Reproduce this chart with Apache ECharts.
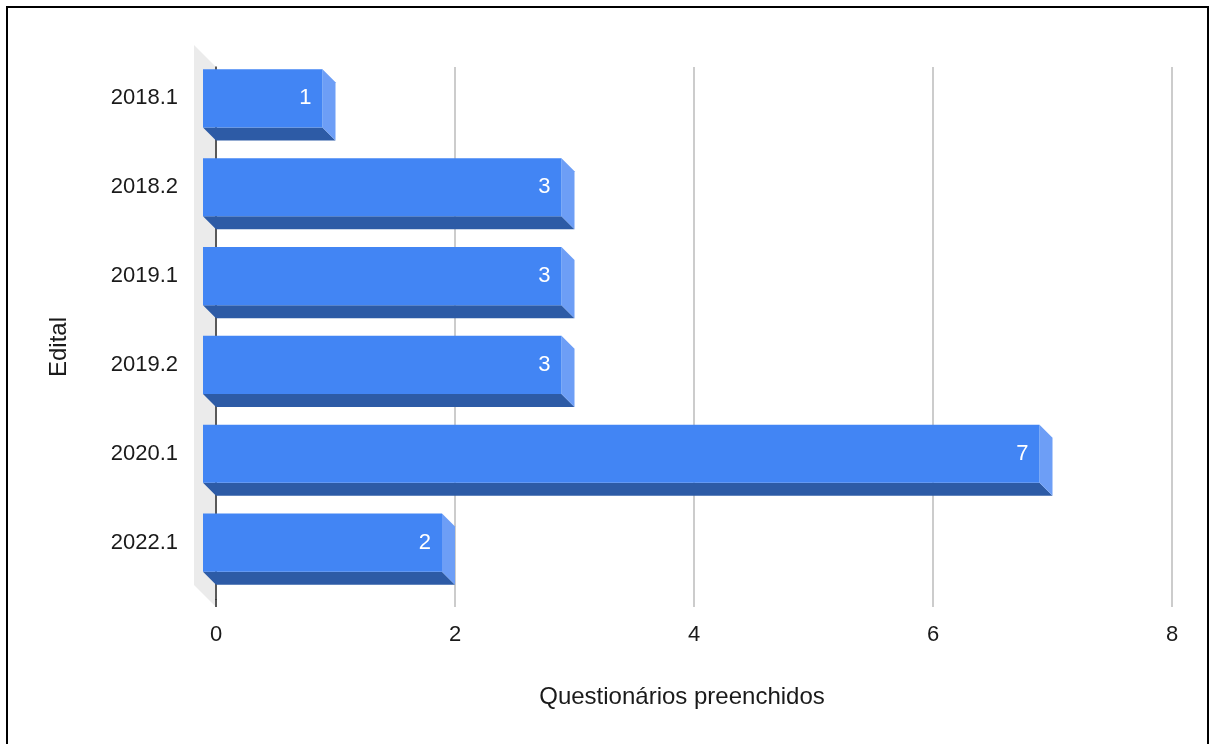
<!DOCTYPE html>
<html>
<head>
<meta charset="utf-8">
<script src="https://cdn.jsdelivr.net/npm/echarts@6/dist/echarts.min.js"></script>
<style>
  html, body { margin: 0; padding: 0; background: #fff; }
  #chart { width: 1209px; height: 744px; }
</style>
</head>
<body>
<div id="chart"></div>
<script>
// Editais and number of filled-in questionnaires per edital
const categories = ['2018.1', '2018.2', '2019.1', '2019.2', '2020.1', '2022.1'];
const values = [1, 3, 3, 3, 7, 2];
const xTicks = [0, 2, 4, 6, 8];

const FONT = '"Liberation Sans", Arial, sans-serif';
const DEPTH = 13;          // 3D extrusion offset (px)
const GRID = { left: 216, top: 67, right: 37, bottom: 144 };
const W = 1209, H = 744;
const plotBottom = H - GRID.bottom;

const chart = echarts.init(document.getElementById('chart'), null, { renderer: 'canvas' });

function renderBar(params, api) {
  const val = api.value(0);
  const cat = api.value(1);
  const base = api.coord([0, cat]);
  const end = api.coord([val, cat]);
  const band = api.size([0, 1])[1];
  const h = band * 0.655;
  const x0 = base[0], x1 = end[0];
  const yT = base[1] - h / 2, yB = base[1] + h / 2;
  const D = DEPTH;
  return {
    type: 'group',
    children: [
      { type: 'polygon', shape: { points: [[x0 - D, yB - D], [x1 - D, yB - D], [x1, yB], [x0, yB]] },
        style: { fill: '#2d5ba6' } },
      { type: 'polygon', shape: { points: [[x1 - D, yT - D], [x1, yT], [x1, yB], [x1 - D, yB - D]] },
        style: { fill: '#6d9ef6' } },
      { type: 'rect', shape: { x: x0 - D, y: yT - D, width: x1 - x0, height: h },
        style: { fill: '#4285f4' } },
      { type: 'text', x: x1 - D - 11, y: yT - D + h / 2,
        style: { text: String(val), fill: '#ffffff', font: '22px ' + FONT, align: 'right', verticalAlign: 'middle' } }
    ]
  };
}

chart.setOption({
  backgroundColor: '#ffffff',
  animation: false,
  textStyle: { fontFamily: FONT },
  grid: { left: GRID.left, top: GRID.top, right: GRID.right, bottom: GRID.bottom, containLabel: false },
  xAxis: {
    type: 'value',
    min: xTicks[0],
    max: xTicks[xTicks.length - 1],
    interval: xTicks[1] - xTicks[0],
    axisLine: { show: false },
    axisTick: { show: true, length: 7, lineStyle: { color: '#cccccc', width: 2 } },
    splitLine: { show: true, lineStyle: { color: '#cccccc', width: 2 } },
    axisLabel: { color: '#1a1a1a', fontSize: 22, fontFamily: FONT, margin: 24 }
  },
  yAxis: {
    type: 'category',
    data: categories,
    inverse: true,
    axisLine: { show: true, lineStyle: { color: '#333333', width: 1.5 } },
    axisTick: { show: false },
    splitLine: { show: false },
    axisLabel: { color: '#1a1a1a', fontSize: 22, fontFamily: FONT, margin: 38, verticalAlign: 'bottom', lineHeight: 26 }
  },
  graphic: [
    // side wall of the 3D plot
    { type: 'polygon', z: -10, silent: true,
      shape: { points: [[GRID.left - 22, GRID.top - 22], [GRID.left, GRID.top], [GRID.left, plotBottom + 7], [GRID.left - 22, plotBottom - 15]] },
      style: { fill: '#ebebeb' } },
    { type: 'line', z: 5, silent: true,
      shape: { x1: GRID.left, y1: plotBottom - 1, x2: GRID.left, y2: plotBottom + 7 },
      style: { stroke: '#333333', lineWidth: 1.5 } },
    // axis titles
    { type: 'text', z: 5, x: 682, y: 697,
      style: { text: 'Questionários preenchidos', font: '24px ' + FONT, fill: '#1a1a1a', align: 'center', verticalAlign: 'middle' } },
    { type: 'text', z: 5, x: 59, y: 347, rotation: Math.PI / 2,
      style: { text: 'Edital', font: '24px ' + FONT, fill: '#1a1a1a', align: 'center', verticalAlign: 'middle' } },
    // outer frame
    { type: 'rect', z: 20, silent: true,
      shape: { x: 7, y: 7, width: 1201, height: 800 },
      style: { fill: 'none', stroke: '#000000', lineWidth: 2 } }
  ],
  series: [{
    type: 'custom',
    renderItem: renderBar,
    encode: { x: 0, y: 1 },
    data: values.map((v, i) => [v, i]),
    z: 3
  }]
});
</script>
</body>
</html>
